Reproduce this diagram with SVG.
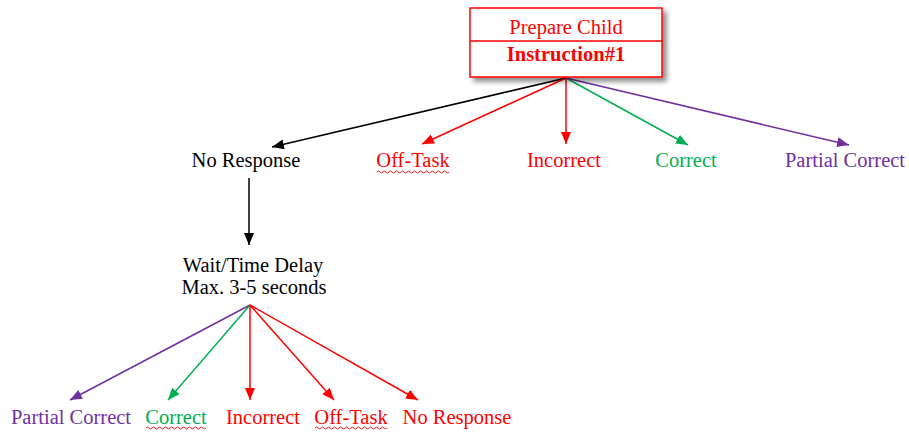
<svg xmlns="http://www.w3.org/2000/svg" width="909" height="432" viewBox="0 0 909 432">
  <style>
    .t { font-family: "Liberation Serif", "Times New Roman", serif; font-size: 20.5px; text-anchor: middle; }
    .blk { fill: #000; }
    .red { fill: #ff0000; }
    .grn { fill: #00b050; }
    .pur { fill: #7030a0; }
    .ln { fill: none; stroke-width: 1.5; }
    .squig { fill: none; stroke: #ff0000; stroke-width: 0.9; }
  </style>
  <defs>
    <filter id="shadow" x="-10%" y="-10%" width="130%" height="140%">
      <feGaussianBlur in="SourceAlpha" stdDeviation="2.5"/>
      <feOffset dx="4" dy="4" result="b"/>
      <feComponentTransfer><feFuncA type="linear" slope="0.45"/></feComponentTransfer>
      <feMerge><feMergeNode/><feMergeNode in="SourceGraphic"/></feMerge>
    </filter>
    <marker id="aBlk" viewBox="0 0 12 10" refX="12" refY="5" markerWidth="12" markerHeight="10" markerUnits="userSpaceOnUse" orient="auto">
      <path d="M0,0 L12,5 L0,10 z" fill="#000"/>
    </marker>
    <marker id="aRed" viewBox="0 0 12 10" refX="12" refY="5" markerWidth="12" markerHeight="10" markerUnits="userSpaceOnUse" orient="auto">
      <path d="M0,0 L12,5 L0,10 z" fill="#ff0000"/>
    </marker>
    <marker id="aGrn" viewBox="0 0 12 10" refX="12" refY="5" markerWidth="12" markerHeight="10" markerUnits="userSpaceOnUse" orient="auto">
      <path d="M0,0 L12,5 L0,10 z" fill="#00b050"/>
    </marker>
    <marker id="aPur" viewBox="0 0 12 10" refX="12" refY="5" markerWidth="12" markerHeight="10" markerUnits="userSpaceOnUse" orient="auto">
      <path d="M0,0 L12,5 L0,10 z" fill="#7030a0"/>
    </marker>
  </defs>

  <!-- connectors -->
  <g id="connectors">
    <line class="ln" x1="566" y1="78" x2="272" y2="147" stroke="#000" marker-end="url(#aBlk)"/>
    <line class="ln" x1="566" y1="78" x2="422" y2="144" stroke="#ff0000" marker-end="url(#aRed)"/>
    <line class="ln" x1="566" y1="78" x2="566" y2="144" stroke="#ff0000" marker-end="url(#aRed)"/>
    <line class="ln" x1="566" y1="78" x2="688" y2="145" stroke="#00b050" marker-end="url(#aGrn)"/>
    <line class="ln" x1="566" y1="78" x2="849" y2="145" stroke="#7030a0" marker-end="url(#aPur)"/>
    <line class="ln" x1="249" y1="178" x2="249" y2="245" stroke="#000" marker-end="url(#aBlk)"/>
    <line class="ln" x1="250" y1="305" x2="70" y2="400" stroke="#7030a0" marker-end="url(#aPur)"/>
    <line class="ln" x1="250" y1="305" x2="168" y2="400" stroke="#00b050" marker-end="url(#aGrn)"/>
    <line class="ln" x1="250" y1="305" x2="250" y2="400" stroke="#ff0000" marker-end="url(#aRed)"/>
    <line class="ln" x1="250" y1="305" x2="334" y2="400" stroke="#ff0000" marker-end="url(#aRed)"/>
    <line class="ln" x1="250" y1="305" x2="418" y2="400" stroke="#ff0000" marker-end="url(#aRed)"/>
  </g>

  <!-- root instruction box -->
  <g id="instruction">
    <rect x="470" y="8" width="192" height="69" fill="#fff" stroke="#ff0000" stroke-width="1.5" filter="url(#shadow)"/>
    <line x1="470" y1="41" x2="662" y2="41" stroke="#ff0000" stroke-width="1.5"/>
    <text class="t red" x="566" y="34">Prepare Child</text>
    <text class="t red" x="566" y="61" font-weight="bold">Instruction#1</text>
  </g>

  <!-- first-level responses -->
  <g id="no-response"><text class="t blk" x="246" y="167">No Response</text></g>
  <g id="off-task">
    <text class="t red" x="413" y="167">Off-Task</text>
    <path class="squig" d="M377,172 q1.5,-2 3,0 t3,0 t3,0 t3,0 t3,0 t3,0 t3,0 t3,0 t3,0 t3,0 t3,0 t3,0 t3,0 t3,0 t3,0 t3,0 t3,0 t3,0 t3,0 t3,0 t3,0 t3,0 t3,0 t3,0"/>
  </g>
  <g id="incorrect"><text class="t red" x="564" y="167">Incorrect</text></g>
  <g id="correct"><text class="t grn" x="686" y="167">Correct</text></g>
  <g id="partial-correct"><text class="t pur" x="845" y="167">Partial Correct</text></g>

  <!-- wait step -->
  <g id="wait">
    <text class="t blk" x="253" y="272">Wait/Time Delay</text>
    <text class="t blk" x="254" y="294">Max. 3-5 seconds</text>
  </g>

  <!-- second-level responses -->
  <g id="partial-correct-2"><text class="t pur" x="71" y="424">Partial Correct</text></g>
  <g id="correct-2">
    <text class="t grn" x="176" y="424">Correct</text>
    <path class="squig" d="M146,428 q1.5,-2 3,0 t3,0 t3,0 t3,0 t3,0 t3,0 t3,0 t3,0 t3,0 t3,0 t3,0 t3,0 t3,0 t3,0 t3,0 t3,0 t3,0 t3,0 t3,0 t3,0"/>
  </g>
  <g id="incorrect-2"><text class="t red" x="263" y="424">Incorrect</text></g>
  <g id="off-task-2">
    <text class="t red" x="351" y="424">Off-Task</text>
    <path class="squig" d="M315,428 q1.5,-2 3,0 t3,0 t3,0 t3,0 t3,0 t3,0 t3,0 t3,0 t3,0 t3,0 t3,0 t3,0 t3,0 t3,0 t3,0 t3,0 t3,0 t3,0 t3,0 t3,0 t3,0 t3,0 t3,0 t3,0"/>
  </g>
  <g id="no-response-2"><text class="t red" x="457" y="424">No Response</text></g>
</svg>
